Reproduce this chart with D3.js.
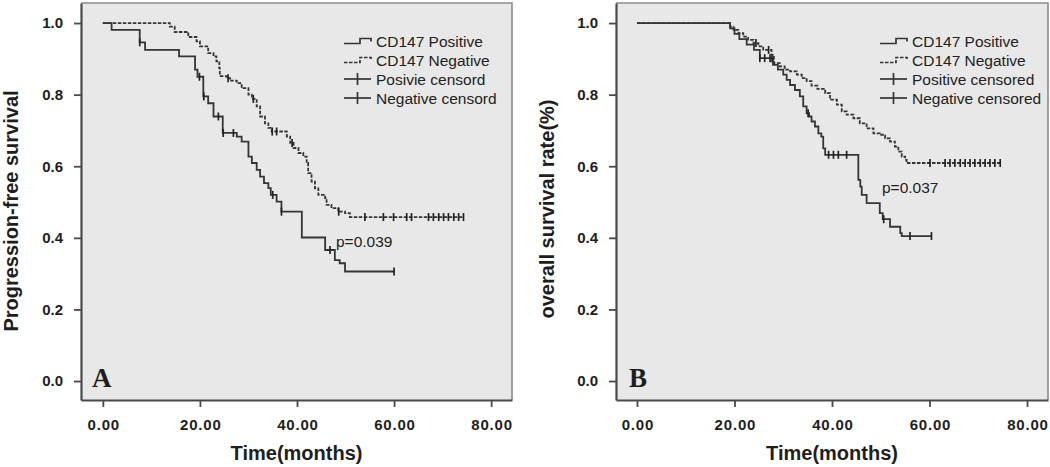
<!DOCTYPE html>
<html><head><meta charset="utf-8">
<script src="https://cdn.jsdelivr.net/npm/d3@7"></script>
<style>
body{margin:0;background:#fff;}
svg{display:block;font-family:Arial,"Liberation Sans",sans-serif;}
</style>
</head><body>
<svg id="chart" width="1050" height="467"></svg>
<script>
// ---------- data ----------
const xTickValues = [0, 20, 40, 60, 80];
const yTickValues = [0, 0.2, 0.4, 0.6, 0.8, 1.0];
const xAxisTitle = "Time(months)";
const yTitleA = "Progression-free survival";
const yTitleB = "overall survival rate(%)";
const legendLabelsA = ["CD147 Positive", "CD147 Negative", "Posivie censord", "Negative censord"];
const legendLabelsB = ["CD147 Positive", "CD147 Negative", "Positive censored", "Negative censored"];
const pLabelA = "p=0.039";
const pLabelB = "p=0.037";

// Panel A: progression-free survival, [time, survival] after each event
const pfsPositiveSteps = [[0,1.0],[1.8,0.981],[7.6,0.946],[8.7,0.925],[15.7,0.907],[19,0.870],[19.5,0.850],[20.7,0.795],[21.7,0.776],[22.8,0.739],[24.7,0.693],[27.6,0.683],[28.6,0.669],[30,0.627],[30.7,0.609],[31.7,0.590],[32.4,0.571],[33.2,0.553],[34.1,0.539],[34.6,0.520],[35.8,0.501],[36.8,0.473],[41,0.401],[45.8,0.366],[47.8,0.338],[48.8,0.329],[49.9,0.306]];
const pfsPositiveCensor = [7.6, 19.9, 20.8, 23.8, 24.8, 26.9, 35.0, 36.8, 46.8, 60];
const pfsNegativeSteps = [[0,1.0],[13.8,0.990],[14.8,0.975],[17.6,0.961],[19.3,0.949],[20,0.935],[21.7,0.916],[22.8,0.907],[23.4,0.893],[24,0.874],[24.1,0.852],[25.5,0.846],[26.2,0.839],[27.6,0.832],[28.6,0.818],[30,0.800],[30.7,0.788],[31.7,0.767],[32.4,0.739],[33.4,0.720],[34.1,0.707],[34.8,0.697],[37.9,0.683],[38.6,0.665],[39.3,0.651],[40.3,0.637],[41.3,0.627],[42,0.609],[42.3,0.581],[43,0.557],[43.7,0.538],[44.4,0.520],[45.8,0.511],[46.1,0.492],[47.1,0.483],[48.5,0.473],[49.9,0.469],[50.9,0.458]];
const pfsNegativeCensor = [25.8, 31.0, 34.9, 35.8, 39.0, 48.6, 54.0, 57.8, 59.9, 62.6, 63.6, 67.1, 68.1, 69.2, 70.2, 71.2, 72.3, 73.3, 74.3];

// Panel B: overall survival
const osPositiveSteps = [[0,1.0],[19.1,0.985],[20,0.970],[21,0.955],[22.5,0.940],[24,0.925],[25.2,0.902],[27.9,0.883],[28.9,0.870],[30,0.856],[30.7,0.841],[31.4,0.827],[32.4,0.813],[33.4,0.795],[34.1,0.767],[34.8,0.748],[35.3,0.739],[35.8,0.725],[36.5,0.711],[37.2,0.692],[37.8,0.683],[38.2,0.650],[38.6,0.632],[45.4,0.562],[45.8,0.543],[46.1,0.520],[47.1,0.497],[49.8,0.469],[50.4,0.452],[51.9,0.431],[54,0.413],[54.3,0.405]];
const osPositiveCensor = [25.2, 26.2, 27.3, 27.7, 35.1, 39.3, 40.3, 41.3, 43.0, 50.6, 56.0, 60.4];
const osNegativeSteps = [[0,1.0],[19.1,0.990],[19.8,0.981],[20.8,0.972],[21.8,0.962],[22.8,0.953],[23.9,0.944],[24.9,0.935],[25.9,0.925],[27.6,0.911],[28.1,0.888],[29.3,0.879],[30.3,0.870],[31.4,0.865],[32.8,0.856],[33.8,0.846],[34.8,0.838],[35.8,0.825],[37.0,0.816],[38.6,0.804],[39.6,0.786],[41,0.772],[42,0.753],[43,0.744],[44.4,0.734],[45.7,0.720],[47.1,0.706],[48.5,0.692],[49.8,0.688],[50.9,0.678],[51.9,0.669],[52.9,0.655],[53.6,0.641],[54.3,0.627],[55,0.618],[55.3,0.609]];
const osNegativeCensor = [24.4, 27.0, 60.1, 63.2, 64.2, 65.2, 66.3, 67.3, 68.3, 69.3, 70.4, 71.4, 72.4, 73.4, 74.5];

// ---------- drawing ----------
const svg = d3.select("#chart");
const INK = "#353535";

function survAt(steps, t) {
  let s = steps[0][1];
  for (const st of steps) { if (st[0] <= t) s = st[1]; }
  return s;
}

function drawPanel(cfg) {
  const g = svg.append("g");
  const top = 3, bottom = 400;
  const x = d3.scaleLinear().domain(cfg.xDomain).range([cfg.left, cfg.right]);
  const y = d3.scaleLinear().domain([-0.053, 1.056]).range([bottom, top]);

  g.append("rect").attr("x", cfg.left).attr("y", top)
    .attr("width", cfg.right - cfg.left).attr("height", bottom - top)
    .attr("fill", "#e8e8e8");
  g.append("path").attr("d", `M${cfg.left},${top}H${cfg.right}V${bottom}`)
    .attr("fill", "none").attr("stroke", "#8c8c8c").attr("stroke-width", 1.6);

  const yAxis = d3.axisLeft(y).tickValues(yTickValues).tickFormat(d3.format(".1f"))
    .tickSize(7).tickSizeOuter(0).tickPadding(11);
  const ya = g.append("g").attr("transform", `translate(${cfg.left},0)`).call(yAxis);
  const xAxis = d3.axisBottom(x).tickValues(xTickValues).tickFormat(d3.format(".2f"))
    .tickSize(7).tickSizeOuter(0).tickPadding(12);
  const xa = g.append("g").attr("transform", `translate(0,${bottom})`).call(xAxis);
  [ya, xa].forEach(a => {
    a.select(".domain").attr("stroke", "#4a4a4a").attr("stroke-width", 2.2);
    a.selectAll(".tick line").attr("stroke", "#4a4a4a").attr("stroke-width", 1.8);
    a.selectAll(".tick text").attr("fill", "#1e1e1e").attr("font-size", 15)
      .attr("font-weight", "bold").attr("font-family", "Arial, 'Liberation Sans', sans-serif");
  });
  xa.selectAll(".tick text").attr("letter-spacing", "0.8px").attr("dx", "0.4px");

  // titles
  g.append("text").attr("x", (cfg.left + cfg.right) / 2).attr("y", 460)
    .attr("text-anchor", "middle").attr("font-size", 20).attr("font-weight", "bold")
    .attr("fill", "#1e1e1e").text(xAxisTitle);
  g.append("text").attr("transform", `translate(${cfg.yTitleX},${cfg.yTitleY}) rotate(-90)`)
    .attr("text-anchor", "middle").attr("dominant-baseline", "central")
    .attr("font-size", 20).attr("font-weight", "bold").attr("fill", "#1e1e1e").text(cfg.yTitle);

  // panel letter
  g.append("text").attr("x", cfg.letterX).attr("y", 387)
    .attr("font-family", "'Liberation Serif','DejaVu Serif',serif")
    .attr("font-size", 27).attr("font-weight", "bold").attr("fill", "#1e1e1e").text(cfg.letter);

  // curves
  const line = d3.line().x(d => x(d[0])).y(d => y(d[1])).curve(d3.curveStepAfter);
  cfg.series.forEach(se => {
    const endT = d3.max(se.censor);
    const pts = se.steps.concat([[endT, se.steps[se.steps.length - 1][1]]]);
    g.append("path").attr("d", line(pts)).attr("fill", "none")
      .attr("stroke", INK).attr("stroke-width", 1.8)
      .attr("stroke-dasharray", se.dashed ? "3.5,1.5" : null);
    g.selectAll(null).data(se.censor).enter().append("line")
      .attr("x1", d => x(d)).attr("x2", d => x(d))
      .attr("y1", d => y(survAt(se.steps, d)) - 4).attr("y2", d => y(survAt(se.steps, d)) + 4)
      .attr("stroke", "#222").attr("stroke-width", 1.7);
  });

  // p value
  g.append("text").attr("x", cfg.pX).attr("y", cfg.pY).attr("dominant-baseline", "central")
    .attr("font-size", 15.5).attr("fill", "#222").text(cfg.pLabel);

  // legend
  const lx = cfg.right - 168;
  const rows = [38, 57, 76, 95].map(v => v + top);
  cfg.legend.forEach((lab, i) => {
    const ry = rows[i];
    if (i < 2) {
      g.append("path").attr("d", `M${lx},${ry + 2.5}H${lx + 16}V${ry - 2.5}H${lx + 27}V${ry + 0.5}`)
        .attr("fill", "none").attr("stroke", INK).attr("stroke-width", 1.7)
        .attr("stroke-dasharray", i === 1 ? "3.5,1.5" : null);
    } else {
      g.append("line").attr("x1", lx).attr("x2", lx + 27).attr("y1", ry).attr("y2", ry)
        .attr("stroke", INK).attr("stroke-width", 1.7);
      g.append("line").attr("x1", lx + 13.5).attr("x2", lx + 13.5).attr("y1", ry - 6).attr("y2", ry + 6)
        .attr("stroke", INK).attr("stroke-width", 1.7);
    }
    g.append("text").attr("x", lx + 32).attr("y", ry).attr("dominant-baseline", "central")
      .attr("font-size", 15.5).attr("fill", "#222").text(lab);
  });
}

drawPanel({
  left: 81, right: 512, xDomain: [-4.5, 84.3],
  yTitle: yTitleA, yTitleX: 11, yTitleY: 211,
  letter: "A", letterX: 92, pLabel: pLabelA, pX: 336, pY: 241,
  legend: legendLabelsA,
  series: [
    {steps: pfsPositiveSteps, censor: pfsPositiveCensor, dashed: false},
    {steps: pfsNegativeSteps, censor: pfsNegativeCensor, dashed: true}
  ]
});
drawPanel({
  left: 616, right: 1048, xDomain: [-4.3, 84.3],
  yTitle: yTitleB, yTitleX: 547, yTitleY: 209,
  letter: "B", letterX: 629, pLabel: pLabelB, pX: 882, pY: 187,
  legend: legendLabelsB,
  series: [
    {steps: osPositiveSteps, censor: osPositiveCensor, dashed: false},
    {steps: osNegativeSteps, censor: osNegativeCensor, dashed: true}
  ]
});
</script>
</body></html>
